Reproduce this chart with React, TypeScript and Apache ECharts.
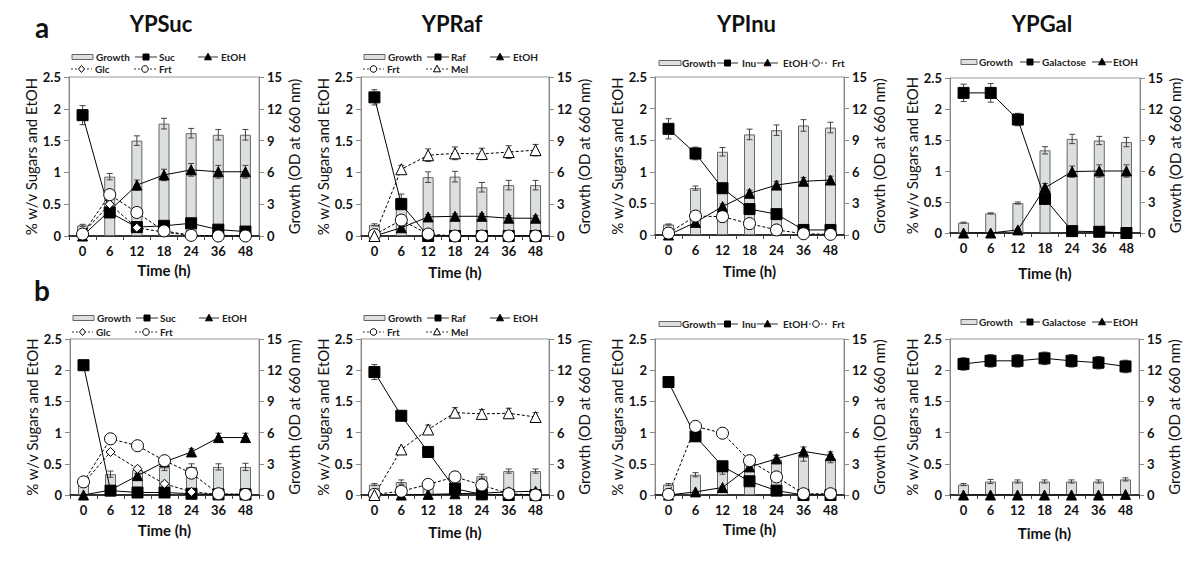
import { useEffect, useRef } from 'react';
import * as echarts from 'echarts';

const FONT = 'Lato, "Open Sans", sans-serif';
const times = ['0', '6', '12', '18', '24', '36', '48'];
const titles = ['YPSuc', 'YPRaf', 'YPInu', 'YPGal'];

// ---------- Row a ----------
const aSucGrowth = [1.0, 5.6, 9.0, 10.6, 9.7, 9.55, 9.55];
const aSucGrowthErr = [0.1, 0.3, 0.45, 0.5, 0.45, 0.5, 0.5];
const aSucSuc = [1.9, 0.37, 0.14, 0.16, 0.2, 0.1, 0.07];
const aSucSucErr = [0.15, 0.03, 0.02, 0.02, 0.02, 0.02, 0.01];
const aSucEtOH = [0, 0.4, 0.8, 0.96, 1.04, 1.01, 1.01];
const aSucEtOHErr = [0, 0.03, 0.08, 0.09, 0.1, 0.1, 0.1];
const aSucGlc = [0.04, 0.5, 0.13, 0.06, 0.01, 0, 0];
const aSucFrt = [0.03, 0.65, 0.37, 0.08, 0.01, 0, 0];

const aRafGrowth = [1.05, 3.6, 5.55, 5.6, 4.6, 4.8, 4.8];
const aRafGrowthErr = [0.1, 0.35, 0.5, 0.5, 0.45, 0.45, 0.45];
const aRafRaf = [2.18, 0.5, 0.0, 0, 0, 0, 0];
const aRafRafErr = [0.12, 0.05, 0, 0, 0, 0, 0];
const aRafEtOH = [0, 0.13, 0.3, 0.31, 0.31, 0.28, 0.28];
const aRafEtOHErr = [0, 0.02, 0.04, 0.04, 0.04, 0.04, 0.04];
const aRafFrt = [0.02, 0.25, 0.03, 0, 0, 0, 0];
const aRafMel = [0, 1.05, 1.27, 1.3, 1.29, 1.32, 1.35];
const aRafMelErr = [0, 0.06, 0.1, 0.1, 0.09, 0.1, 0.09];

const aInuGrowth = [1.0, 4.45, 7.9, 9.55, 9.95, 10.4, 10.2];
const aInuGrowthErr = [0.05, 0.2, 0.4, 0.5, 0.5, 0.55, 0.5];
const aInuInu = [1.68, 1.29, 0.74, 0.41, 0.33, 0.08, 0.08];
const aInuInuErr = [0.16, 0.1, 0.05, 0.03, 0.03, 0.02, 0.02];
const aInuEtOH = [0, 0.2, 0.45, 0.66, 0.79, 0.85, 0.87];
const aInuEtOHErr = [0, 0.02, 0.04, 0.05, 0.06, 0.06, 0.06];
const aInuFrt = [0.03, 0.3, 0.29, 0.18, 0.08, 0.02, 0.01];

const aGalGrowth = [1.0, 1.9, 2.9, 8.0, 9.1, 8.95, 8.8];
const aGalGrowthErr = [0.05, 0.05, 0.1, 0.35, 0.45, 0.4, 0.45];
const aGalGal = [2.26, 2.26, 1.83, 0.55, 0.03, 0.02, 0.0];
const aGalGalErr = [0.14, 0.15, 0.1, 0.05, 0, 0, 0];
const aGalEtOH = [0, 0, 0.05, 0.73, 0.99, 1.0, 1.0];
const aGalEtOHErr = [0, 0, 0.02, 0.07, 0.09, 0.1, 0.1];

// ---------- Row b ----------
const bSucGrowth = [1.0, 2.0, 2.4, 2.65, 2.7, 2.7, 2.7];
const bSucGrowthErr = [0.1, 0.3, 0.3, 0.3, 0.3, 0.3, 0.35];
const bSucSuc = [2.08, 0.07, 0.04, 0.04, 0.02, 0.01, 0.01];
const bSucSucErr = [0.08, 0.01, 0.01, 0.01, 0, 0, 0];
const bSucEtOH = [0, 0.08, 0.31, 0.53, 0.69, 0.92, 0.92];
const bSucEtOHErr = [0, 0.01, 0.03, 0.04, 0.05, 0.07, 0.07];
const bSucGlc = [0.19, 0.69, 0.42, 0.18, 0.05, 0.01, 0.0];
const bSucFrt = [0.21, 0.9, 0.79, 0.55, 0.35, 0.02, 0.01];

const bRafGrowth = [1.0, 1.25, 1.1, 1.5, 1.8, 2.3, 2.3];
const bRafGrowthErr = [0.1, 0.2, 0.2, 0.2, 0.2, 0.2, 0.2];
const bRafRaf = [1.97, 1.27, 0.69, 0.1, 0.01, 0, 0];
const bRafRafErr = [0.12, 0.05, 0.03, 0.02, 0, 0, 0];
const bRafEtOH = [0, 0, 0.01, 0.02, 0.03, 0.05, 0.06];
const bRafFrt = [0.01, 0.06, 0.17, 0.29, 0.16, 0.02, 0.0];
const bRafMel = [0, 0.73, 1.05, 1.32, 1.3, 1.31, 1.25];
const bRafMelErr = [0, 0.03, 0.07, 0.08, 0.07, 0.08, 0.07];

const bInuGrowth = [1.0, 1.95, 2.3, 3.1, 3.4, 3.65, 3.5];
const bInuGrowthErr = [0.1, 0.2, 0.3, 0.3, 0.4, 0.4, 0.4];
const bInuInu = [1.81, 0.94, 0.46, 0.22, 0.07, 0, 0];
const bInuInuErr = [0.07, 0.05, 0.03, 0.02, 0, 0, 0];
const bInuEtOH = [0, 0.05, 0.12, 0.45, 0.58, 0.7, 0.63];
const bInuEtOHErr = [0, 0, 0.02, 0.04, 0.06, 0.07, 0.06];
const bInuFrt = [0.01, 1.1, 0.99, 0.55, 0.29, 0.02, 0.02];
const bInuFrtErr = [0, 0.05, 0.05, 0.04, 0, 0, 0];

const bGalGrowth = [1.0, 1.3, 1.3, 1.3, 1.3, 1.3, 1.5];
const bGalGrowthErr = [0.1, 0.2, 0.15, 0.15, 0.15, 0.15, 0.15];
const bGalGal = [2.1, 2.15, 2.15, 2.19, 2.15, 2.12, 2.06];
const bGalGalErr = [0.1, 0.1, 0.1, 0.1, 0.1, 0.1, 0.1];
const bGalEtOH = [0, 0, 0, 0, 0, 0, 0.01];

type LineDef = { name: string; v: number[]; e?: number[] };
type PanelDef = {
  grid: { left: number; top: number; width: number; height: number };
  kind: 'two' | 'inu' | 'gal';
  row: 'a' | 'b';
  growth: number[];
  growthErr: number[];
  lines: LineDef[];
  rows: string[][];
  nameGap: number;
};

const panels: PanelDef[] = [
  { grid: { left: 69, top: 77, width: 190, height: 159 }, kind: 'two', row: 'a', nameGap: 26,
    growth: aSucGrowth, growthErr: aSucGrowthErr,
    lines: [{ name: 'Suc', v: aSucSuc, e: aSucSucErr }, { name: 'EtOH', v: aSucEtOH, e: aSucEtOHErr }, { name: 'Glc', v: aSucGlc }, { name: 'Frt', v: aSucFrt }],
    rows: [['Growth', 'Suc', 'EtOH'], ['Glc', 'Frt']] },
  { grid: { left: 361, top: 77, width: 188, height: 159 }, kind: 'two', row: 'a', nameGap: 28,
    growth: aRafGrowth, growthErr: aRafGrowthErr,
    lines: [{ name: 'Raf', v: aRafRaf, e: aRafRafErr }, { name: 'EtOH', v: aRafEtOH, e: aRafEtOHErr }, { name: 'Frt', v: aRafFrt }, { name: 'Mel', v: aRafMel, e: aRafMelErr }],
    rows: [['Growth', 'Raf', 'EtOH'], ['Frt', 'Mel']] },
  { grid: { left: 655, top: 77, width: 189, height: 158 }, kind: 'inu', row: 'a', nameGap: 28,
    growth: aInuGrowth, growthErr: aInuGrowthErr,
    lines: [{ name: 'Inu', v: aInuInu, e: aInuInuErr }, { name: 'EtOH', v: aInuEtOH, e: aInuEtOHErr }, { name: 'Frt', v: aInuFrt }],
    rows: [['Growth', 'Inu', 'EtOH', 'Frt']] },
  { grid: { left: 950, top: 78, width: 190, height: 155 }, kind: 'gal', row: 'a', nameGap: 32,
    growth: aGalGrowth, growthErr: aGalGrowthErr,
    lines: [{ name: 'Galactose', v: aGalGal, e: aGalGalErr }, { name: 'EtOH', v: aGalEtOH, e: aGalEtOHErr }],
    rows: [['Growth', 'Galactose', 'EtOH']] },
  { grid: { left: 70, top: 339, width: 189, height: 156 }, kind: 'two', row: 'b', nameGap: 27,
    growth: bSucGrowth, growthErr: bSucGrowthErr,
    lines: [{ name: 'Suc', v: bSucSuc, e: bSucSucErr }, { name: 'EtOH', v: bSucEtOH, e: bSucEtOHErr }, { name: 'Glc', v: bSucGlc }, { name: 'Frt', v: bSucFrt }],
    rows: [['Growth', 'Suc', 'EtOH'], ['Glc', 'Frt']] },
  { grid: { left: 361, top: 339, width: 188, height: 156 }, kind: 'two', row: 'b', nameGap: 29,
    growth: bRafGrowth, growthErr: bRafGrowthErr,
    lines: [{ name: 'Raf', v: bRafRaf, e: bRafRafErr }, { name: 'EtOH', v: bRafEtOH }, { name: 'Frt', v: bRafFrt }, { name: 'Mel', v: bRafMel, e: bRafMelErr }],
    rows: [['Growth', 'Raf', 'EtOH'], ['Frt', 'Mel']] },
  { grid: { left: 655, top: 339, width: 189, height: 156 }, kind: 'inu', row: 'b', nameGap: 26,
    growth: bInuGrowth, growthErr: bInuGrowthErr,
    lines: [{ name: 'Inu', v: bInuInu, e: bInuInuErr }, { name: 'EtOH', v: bInuEtOH, e: bInuEtOHErr }, { name: 'Frt', v: bInuFrt, e: bInuFrtErr }],
    rows: [['Growth', 'Inu', 'EtOH', 'Frt']] },
  { grid: { left: 950, top: 339, width: 189, height: 156 }, kind: 'gal', row: 'b', nameGap: 30,
    growth: bGalGrowth, growthErr: bGalGrowthErr,
    lines: [{ name: 'Galactose', v: bGalGal, e: bGalGalErr }, { name: 'EtOH', v: bGalEtOH }],
    rows: [['Growth', 'Galactose', 'EtOH']] },
];

// legend item layout: [icon x offset from grid left, icon width, text x offset]
const legendLayout: Record<string, { items: number[][][]; dyA: number[]; dyB: number[] }> = {
  two: { items: [[[3, 21, 27], [66, 22, 90], [129, 20, 152]], [[2, 21, 26], [65, 22, 90]]], dyA: [-20, -8], dyB: [-21, -7] },
  inu: { items: [[[4, 22, 27], [62, 21, 87], [102, 21, 128], [150, 22, 177]]], dyA: [-14], dyB: [-15] },
  gal: { items: [[[11, 16, 29], [70, 20, 92], [142, 20, 163]]], dyA: [-16], dyB: [-17] },
};

const symbolStyles: Record<string, { symbol: string; size: number; fill: string; dashed: boolean }> = {
  Suc: { symbol: 'rect', size: 11, fill: '#000', dashed: false },
  Raf: { symbol: 'rect', size: 11, fill: '#000', dashed: false },
  Inu: { symbol: 'rect', size: 11, fill: '#000', dashed: false },
  Galactose: { symbol: 'rect', size: 11, fill: '#000', dashed: false },
  EtOH: { symbol: 'triangle', size: 10, fill: '#000', dashed: false },
  Glc: { symbol: 'diamond', size: 9, fill: '#fff', dashed: true },
  Frt: { symbol: 'circle', size: 12, fill: '#fff', dashed: true },
  Mel: { symbol: 'triangle', size: 11, fill: '#fff', dashed: true },
};

const errRender = (_params: any, api: any) => {
  const x = api.value(0);
  const a = api.coord([x, api.value(1)]);
  const b = api.coord([x, api.value(2)]);
  const hw = 3;
  const style = { stroke: '#444', lineWidth: 1 };
  return {
    type: 'group',
    children: [
      { type: 'line', shape: { x1: a[0], y1: a[1], x2: b[0], y2: b[1] }, style },
      { type: 'line', shape: { x1: a[0] - hw, y1: a[1], x2: a[0] + hw, y2: a[1] }, style },
      { type: 'line', shape: { x1: b[0] - hw, y1: b[1], x2: b[0] + hw, y2: b[1] }, style },
    ],
  };
};

const errData = (v: number[], e: number[]) =>
  v.map((val, i) => [i, val - e[i], val + e[i]]).filter((_d, i) => e[i] > 0);

function legendSymbol(name: string, cx: number, cy: number): any {
  const s = symbolStyles[name];
  const style = { fill: s.fill, stroke: '#000', lineWidth: 1 };
  if (s.symbol === 'rect') return { type: 'rect', shape: { x: cx - 3, y: cy - 3, width: 6, height: 6 }, style, z: 101 };
  if (s.symbol === 'circle') return { type: 'circle', shape: { cx, cy, r: 3.3 }, style, z: 101 };
  if (s.symbol === 'diamond') return { type: 'polygon', shape: { points: [[cx, cy - 3.5], [cx + 3, cy], [cx, cy + 3.5], [cx - 3, cy]] }, style, z: 101 };
  return { type: 'polygon', shape: { points: [[cx, cy - 3.8], [cx + 3.5, cy + 2.8], [cx - 3.5, cy + 2.8]] }, style, z: 101 };
}

function buildOption() {
  const grids: any[] = [];
  const xAxes: any[] = [];
  const yAxes: any[] = [];
  const series: any[] = [];
  const graphic: any[] = [];
  const axisLabelStyle = { fontFamily: FONT, fontSize: 13, fontWeight: 'bold', color: '#111' };
  const nameStyle = { fontFamily: FONT, fontSize: 15, color: '#111' };

  panels.forEach((p, i) => {
    grids.push({ ...p.grid, show: true, borderColor: '#999', borderWidth: 1, backgroundColor: 'transparent' });
    xAxes.push({
      type: 'category', gridIndex: i, data: times,
      name: 'Time (h)', nameLocation: 'middle', nameGap: p.nameGap,
      nameTextStyle: { ...nameStyle, fontWeight: 'bold', fontSize: 15 },
      axisLine: { lineStyle: { color: '#000', width: 1.5 } },
      axisTick: { show: true, length: 4, lineStyle: { color: '#444' } },
      axisLabel: { ...axisLabelStyle, interval: 0, margin: 8 },
    });
    yAxes.push({
      type: 'value', gridIndex: i, position: 'left', min: 0, max: 2.5, interval: 0.5,
      name: '% w/v Sugars and EtOH', nameLocation: 'middle', nameRotate: 90, nameGap: 28,
      nameTextStyle: nameStyle,
      axisLine: { show: true, lineStyle: { color: '#888' } },
      axisTick: { show: true, length: 5, lineStyle: { color: '#888' } },
      axisLabel: { ...axisLabelStyle, margin: 8 },
      splitLine: { show: false },
    });
    yAxes.push({
      type: 'value', gridIndex: i, position: 'right', min: 0, max: 15, interval: 3,
      name: 'Growth (OD at 660 nm)', nameLocation: 'middle', nameRotate: 90, nameGap: 27,
      nameTextStyle: nameStyle,
      axisLine: { show: true, lineStyle: { color: '#888' } },
      axisTick: { show: true, length: 5, lineStyle: { color: '#888' } },
      axisLabel: { ...axisLabelStyle, margin: 8 },
      splitLine: { show: false },
    });

    series.push({
      type: 'bar', name: 'Growth', xAxisIndex: i, yAxisIndex: 2 * i + 1, data: p.growth,
      barWidth: 11, z: 1,
      itemStyle: { color: '#dcdfe0', borderColor: '#666', borderWidth: 1 },
    });
    series.push({
      type: 'custom', name: 'err', xAxisIndex: i, yAxisIndex: 2 * i + 1,
      data: errData(p.growth, p.growthErr), encode: { x: 0, y: [1, 2] },
      renderItem: errRender, z: 2, silent: true,
    });
    p.lines.forEach((l) => {
      const s = symbolStyles[l.name];
      series.push({
        type: 'line', name: l.name, xAxisIndex: i, yAxisIndex: 2 * i, data: l.v,
        symbol: s.symbol, symbolSize: s.size, showAllSymbol: true, z: 3,
        itemStyle: { color: s.fill, borderColor: '#000', borderWidth: 1 },
        lineStyle: { color: '#000', width: 1, type: s.dashed ? [3, 2] : 'solid' },
      });
      if (l.e) {
        series.push({
          type: 'custom', name: 'err', xAxisIndex: i, yAxisIndex: 2 * i,
          data: errData(l.v, l.e), encode: { x: 0, y: [1, 2] },
          renderItem: errRender, z: 2.5, silent: true,
        });
      }
    });

    // legend drawn as graphics
    const lay = legendLayout[p.kind];
    const dys = p.row === 'a' ? lay.dyA : lay.dyB;
    p.rows.forEach((row, r) => {
      const cy = p.grid.top + dys[r];
      row.forEach((name, k) => {
        const [ix, iw, tx] = lay.items[r][k];
        const x0 = p.grid.left + ix;
        if (name === 'Growth') {
          graphic.push({ type: 'rect', shape: { x: x0, y: cy - 2.5, width: iw, height: 5 },
            style: { fill: '#dcdfe0', stroke: '#666', lineWidth: 1 }, z: 100 });
        } else {
          const s = symbolStyles[name];
          graphic.push({ type: 'line', shape: { x1: x0, y1: cy, x2: x0 + iw, y2: cy },
            style: { stroke: '#333', lineWidth: 1, lineDash: s.dashed ? [2, 2] : null }, z: 100 });
          graphic.push(legendSymbol(name, x0 + iw / 2, cy));
        }
        graphic.push({ type: 'text', x: p.grid.left + tx, y: cy, z: 100,
          style: { text: name, font: `bold 10px ${FONT}`, fill: '#222', align: 'left', verticalAlign: 'middle' } });
      });
    });
  });

  graphic.push(
    { type: 'text', x: 42, y: 27, style: { text: 'a', font: `bold 28px ${FONT}`, fill: '#111', align: 'center', verticalAlign: 'middle' } },
    { type: 'text', x: 42, y: 290, style: { text: 'b', font: `bold 28px ${FONT}`, fill: '#111', align: 'center', verticalAlign: 'middle' } },
  );
  titles.forEach((t, i) => {
    const g = panels[i].grid;
    graphic.push({ type: 'text', x: g.left + g.width / 2 - 3, y: 23,
      style: { text: t, font: `bold 22px ${FONT}`, fill: '#111', align: 'center', verticalAlign: 'middle' } });
  });

  return {
    animation: false,
    backgroundColor: '#fff',
    textStyle: { fontFamily: FONT },
    grid: grids, xAxis: xAxes, yAxis: yAxes, series, graphic,
  };
}

export default function App() {
  const ref = useRef<HTMLDivElement>(null);
  useEffect(() => {
    if (!ref.current) return;
    const chart = echarts.init(ref.current, undefined, { renderer: 'svg' });
    chart.setOption(buildOption() as any);
    return () => chart.dispose();
  }, []);
  return <div ref={ref} style={{ position: 'fixed', left: 0, top: 0, width: 1200, height: 583, background: '#fff' }} />;
}
